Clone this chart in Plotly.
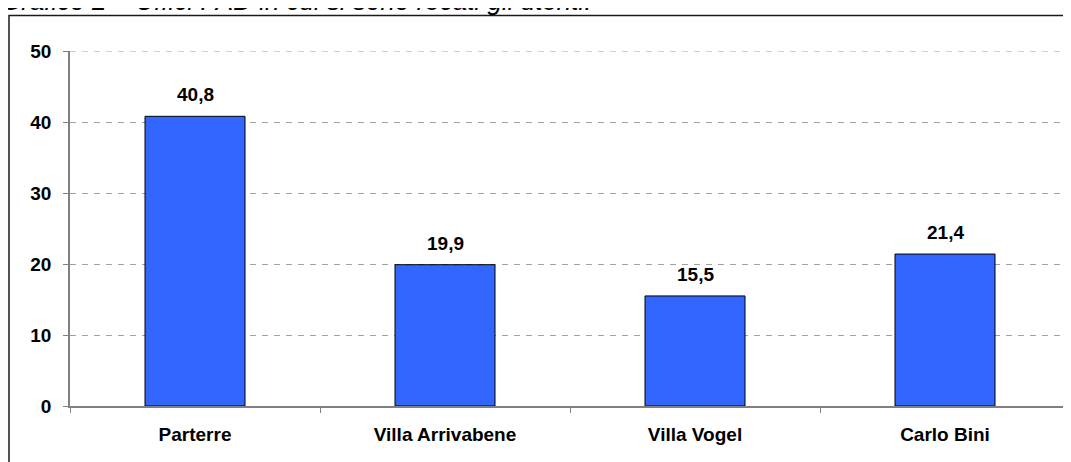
import plotly.graph_objects as go

categories = ["Parterre", "Villa Arrivabene", "Villa Vogel", "Carlo Bini"]
values = [40.8, 19.9, 15.5, 21.4]
y_ticks = [0, 10, 20, 30, 40, 50]
title_text = "Grafico 2 – Uffici PAD in cui si sono recati gli utenti."

FONT = "Liberation Sans, Arial, sans-serif"
# page offset from the browser's default body margin
OFF = 8
W, H = 1071 - OFF, 462 - OFF
PLOT_TOP, PLOT_BOTTOM, PLOT_LEFT, PLOT_RIGHT = 51 - OFF, 406 - OFF, 70 - OFF, 1070 - OFF
PH = PLOT_BOTTOM - PLOT_TOP
PW = PLOT_RIGHT - PLOT_LEFT


def py(page_px):
    return 1 + (PLOT_TOP - (page_px - OFF)) / PH


def pxx(page_px):
    return ((page_px - OFF) - PLOT_LEFT) / PW


fig = go.Figure()
fig.add_trace(go.Bar(
    x=categories, y=values,
    marker=dict(color="#3366FF", line=dict(color="#000000", width=1)),
    width=0.4,
    hoverinfo="skip",
))

for c, v in zip(categories, values):
    fig.add_annotation(
        x=c, y=v, xref="x", yref="y",
        text="<b>" + f"{v:.1f}".replace(".", ",") + "</b>",
        showarrow=False, yanchor="bottom", yshift=9,
        font=dict(family=FONT, size=19, color="#000000"),
    )

# title (partially cut off at the top of the page, as in the reference)
fig.add_annotation(
    xref="paper", yref="paper", x=pxx(-1), y=py(18),
    xanchor="left", yanchor="bottom",
    text="<i>" + title_text + "</i>", showarrow=False,
    font=dict(family=FONT, size=26, color="#000000"),
)

# outer chart-area border
fig.add_shape(
    type="rect", xref="paper", yref="paper",
    x0=pxx(9), x1=pxx(1090), y0=py(480), y1=py(15.5),
    line=dict(color="#1a1a1a", width=1.5), fillcolor="rgba(0,0,0,0)",
    layer="below",
)

# top gridline at the last tick (dashed, like the others)
fig.add_shape(
    type="line", xref="paper", yref="y",
    x0=0, x1=1, y0=y_ticks[-1], y1=y_ticks[-1],
    line=dict(color="#a0a0a0", width=1, dash="6px,6px"),
    layer="below",
)

fig.update_layout(
    width=W, height=H,
    margin=dict(l=PLOT_LEFT, r=W - PLOT_RIGHT, t=PLOT_TOP, b=H - PLOT_BOTTOM),
    paper_bgcolor="white", plot_bgcolor="white",
    showlegend=False,
    font=dict(family=FONT, size=19, color="#000000"),
)
fig.update_xaxes(
    type="category", categoryorder="array", categoryarray=categories,
    range=[-0.5, 3.5], automargin=False,
    showline=True, linecolor="#808080", linewidth=1.5,
    ticks="outside", tickson="boundaries", ticklen=5, tickcolor="#808080",
    showgrid=False,
    tickfont=dict(family=FONT, size=19, color="#000000", weight="bold"),
    ticklabelstandoff=10,
)
fig.update_yaxes(
    range=[0, 50], tickvals=y_ticks, automargin=False,
    showline=True, linecolor="#808080", linewidth=1.5,
    ticks="outside", ticklen=5, tickcolor="#808080",
    showgrid=True, gridcolor="#a0a0a0", gridwidth=1, griddash="6px,6px",
    zeroline=False,
    tickfont=dict(family=FONT, size=19, color="#000000", weight="bold"),
    ticklabelstandoff=8,
)

fig.write_html("out.html")
